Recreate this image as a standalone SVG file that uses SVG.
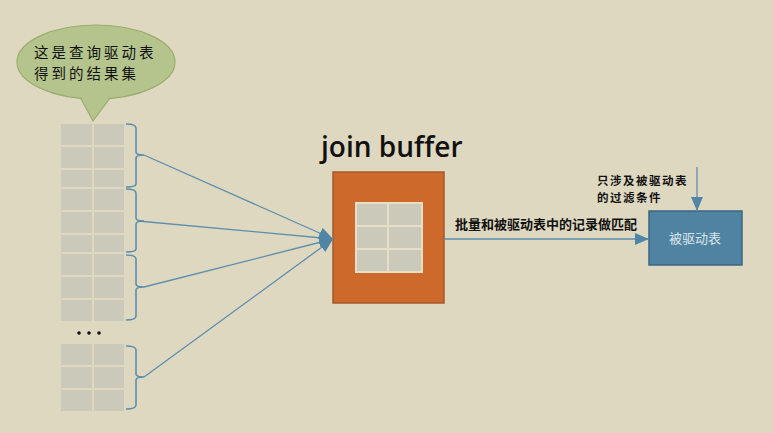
<svg xmlns="http://www.w3.org/2000/svg" width="773" height="433" viewBox="0 0 773 433">
<defs>
<style>
.cell{fill:#CBCABA}
.brace{fill:none;stroke:#5C8EAD;stroke-width:1.6}
.conn{fill:none;stroke:#5C8EAD;stroke-width:1.3}
.cjk{font-family:"Noto Sans CJK SC","Noto Sans",sans-serif}
</style>
<marker id="ah" viewBox="0 0 14 12" refX="14" refY="6" markerWidth="14" markerHeight="12" markerUnits="userSpaceOnUse" orient="auto">
<path d="M0,0 L14,6 L0,12 Z" fill="#4F86A6"/>
</marker>
</defs>
<rect width="773" height="433" fill="#DFD8C0"/>

<g id="bubble">
<path d="M80,97 L93,121 L110,98 Z" fill="#B4C48C" stroke="#98AE6C" stroke-width="1.2"/>
<ellipse cx="96" cy="62" rx="79" ry="37" fill="#B4C48C" stroke="#98AE6C" stroke-width="1.2"/>
<path d="M81,97 L93,119 L109,98 Z" fill="#B4C48C"/>
<text class="cjk" x="34" y="58" font-size="14.5" letter-spacing="3" fill="#111">这是查询驱动表</text>
<text class="cjk" x="34" y="79" font-size="14.5" letter-spacing="3" fill="#111">得到的结果集</text>
</g>

<g id="driving-rows">
<rect class="cell" x="61" y="124" width="31" height="21"/><rect class="cell" x="94" y="124" width="30" height="21"/>
<rect class="cell" x="61" y="147" width="31" height="21"/><rect class="cell" x="94" y="147" width="30" height="21"/>
<rect class="cell" x="61" y="170" width="31" height="17"/><rect class="cell" x="94" y="170" width="30" height="17"/>
<rect class="cell" x="61" y="189" width="31" height="21"/><rect class="cell" x="94" y="189" width="30" height="21"/>
<rect class="cell" x="61" y="212" width="31" height="21"/><rect class="cell" x="94" y="212" width="30" height="21"/>
<rect class="cell" x="61" y="235" width="31" height="17"/><rect class="cell" x="94" y="235" width="30" height="17"/>
<rect class="cell" x="61" y="254" width="31" height="21"/><rect class="cell" x="94" y="254" width="30" height="21"/>
<rect class="cell" x="61" y="277" width="31" height="21"/><rect class="cell" x="94" y="277" width="30" height="21"/>
<rect class="cell" x="61" y="300" width="31" height="21"/><rect class="cell" x="94" y="300" width="30" height="21"/>
<circle cx="79" cy="333" r="1.8" fill="#111"/><circle cx="89" cy="333" r="1.8" fill="#111"/><circle cx="99" cy="333" r="1.8" fill="#111"/>
<rect class="cell" x="61" y="344" width="31" height="21"/><rect class="cell" x="94" y="344" width="30" height="21"/>
<rect class="cell" x="61" y="367" width="31" height="21"/><rect class="cell" x="94" y="367" width="30" height="21"/>
<rect class="cell" x="61" y="390" width="31" height="21"/><rect class="cell" x="94" y="390" width="30" height="21"/>
</g>

<g id="braces">
<path class="brace" d="M126,124 Q136,124 136,128 L136,152 Q136,155 144,155 Q136,155 136,158 L136,184 Q136,187 126,187"/>
<path class="brace" d="M126,189 Q136,189 136,193 L136,218 Q136,221 144,221 Q136,221 136,224 L136,249 Q136,252 126,252"/>
<path class="brace" d="M126,255 Q136,255 136,259 L136,284 Q136,287 144,287 Q136,287 136,290 L136,316 Q136,320 126,320"/>
<path class="brace" d="M126,346 Q136,346 136,350 L136,374 Q136,377 144,377 Q136,377 136,380 L136,405 Q136,409 126,409"/>
</g>

<g id="join-buffer">
<text x="321" y="157" font-family="'Open Sans','DejaVu Sans',sans-serif" font-weight="600" font-size="28" fill="#111">join buffer</text>
<rect x="333" y="172" width="111" height="131" fill="#CE692C" stroke="#A45A2C" stroke-width="1.5"/>
<rect x="355" y="202" width="68" height="71" fill="#E6DEC6"/>
<rect class="cell" x="357" y="204" width="30" height="21"/><rect class="cell" x="389" y="204" width="32" height="21"/>
<rect class="cell" x="357" y="227" width="30" height="21"/><rect class="cell" x="389" y="227" width="32" height="21"/>
<rect class="cell" x="357" y="250" width="30" height="21"/><rect class="cell" x="389" y="250" width="32" height="21"/>
</g>

<g id="driven-table">
<rect x="649" y="211" width="93" height="54" fill="#4F83A1" stroke="#3B6682" stroke-width="1.5"/>
<text class="cjk" x="695" y="243" font-size="13" fill="#DCE6EC" text-anchor="middle">被驱动表</text>
</g>

<g id="connectors">
<line class="conn" x1="144" y1="155" x2="333" y2="239" marker-end="url(#ah)"/>
<line class="conn" x1="138" y1="221" x2="333" y2="239" marker-end="url(#ah)"/>
<line class="conn" x1="144" y1="287" x2="333" y2="239" marker-end="url(#ah)"/>
<line class="conn" x1="144" y1="377" x2="333" y2="239" marker-end="url(#ah)"/>
<line class="conn" x1="444" y1="239" x2="649" y2="239" marker-end="url(#ah)"/>
<line class="conn" x1="697" y1="167" x2="697" y2="211" marker-end="url(#ah)"/>
</g>

<g id="labels">
<text class="cjk" x="455" y="229" font-size="13" font-weight="bold" fill="#111">批量和被驱动表中的记录做匹配</text>
<text class="cjk" x="597" y="184.5" font-size="11.5" letter-spacing="1.5" font-weight="bold" fill="#111">只涉及被驱动表</text>
<text class="cjk" x="597" y="201.5" font-size="11.5" letter-spacing="1.5" font-weight="bold" fill="#111">的过滤条件</text>
</g>
</svg>
